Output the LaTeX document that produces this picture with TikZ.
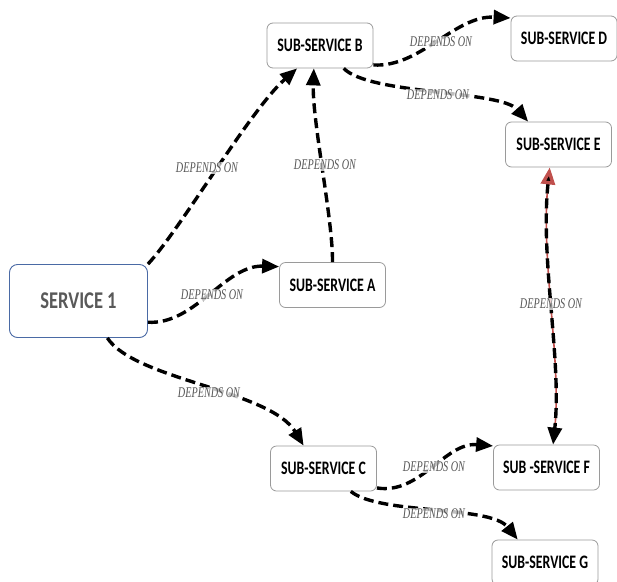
\documentclass[tikz,border=0pt]{standalone}
\usepackage{fontspec}
\usepackage{graphicx}
\setsansfont{Carlito}
\newfontfamily\lblfont{Liberation Serif}
\usetikzlibrary{arrows.meta}
\definecolor{boxgray}{HTML}{9A9A9A}
\definecolor{svcblue}{HTML}{4A6AA5}
\definecolor{svctext}{HTML}{595959}
\definecolor{lblgray}{HTML}{555555}
\definecolor{linkred}{HTML}{C0504D}
\tikzset{
  subbox/.style={draw=boxgray, line width=0.8pt, rounded corners=6pt, fill=white,
    minimum width=106pt, minimum height=45pt, inner sep=0pt,
    font=\sffamily\bfseries\fontsize{13.8}{14}\selectfont},
  mainbox/.style={draw=svcblue, line width=0.9pt, rounded corners=8pt, fill=white,
    minimum width=138pt, minimum height=73pt, inner sep=0pt, text=svctext,
    font=\sffamily\bfseries\fontsize{18.5}{20}\selectfont},
  dep/.style={line width=3.4pt, dash pattern=on 10pt off 5pt,
    -{Triangle[length=17pt,width=14pt]}},
  lbl/.style={fill=white, fill opacity=0.75, text opacity=1, inner sep=1pt,
    text=lblgray, font=\lblfont\itshape\fontsize{10.2}{10}\selectfont}
}
\newcommand{\vtext}[2]{\scalebox{1}[#1]{#2}}
\newcommand{\deplbl}{\vtext{1.45}{DEPENDS ON}}
\begin{document}
\begin{tikzpicture}[x=1pt,y=-1pt]
\useasboundingbox (0,0) rectangle (617,581);
\clip (0,0) rectangle (617,581);
\fill[white] (0,0) rectangle (617,581);

% nodes
\node[mainbox] (s1) at (78.5,301) {\vtext{1.3}{SERVICE 1}};
\node[subbox] (b) at (320,45.5) {\vtext{1.38}{SUB-SERVICE B}};
\node[subbox] (d) at (564,38.5) {\vtext{1.38}{SUB-SERVICE D}};
\node[subbox] (e) at (558.5,144.5) {\vtext{1.38}{SUB-SERVICE E}};
\node[subbox] (a) at (332.5,285) {\vtext{1.38}{SUB-SERVICE A}};
\node[subbox] (c) at (323.5,468.5) {\vtext{1.38}{SUB-SERVICE C}};
\node[subbox] (f) at (546.5,467.5) {\vtext{1.38}{SUB -SERVICE F}};
\node[subbox] (g) at (545,562.5) {\vtext{1.38}{SUB-SERVICE G}};

% connectors
\draw[dep] (s1.north east) .. controls (180,230) and (250,110) .. (b.225);
\draw[dep] (s1.343.5) .. controls (195,325) and (225,265) .. (a.161);
\draw[dep] (s1.308) .. controls (135,380) and (270,390) .. (c.131);
\draw[dep] (a.north) .. controls (333,220) and (312,120) .. (b.255);
\draw[dep] (b.340) .. controls (420,68) and (455,15) .. (d.159);
\draw[dep] (b.316) .. controls (370,95) and (500,90) .. (e.143.6);
\draw[dep] (c.340) .. controls (420,495) and (445,442) .. (f.158.5);
\draw[dep] (c.320) .. controls (380,515) and (490,505) .. (g.140);
% bidirectional E <-> F
\draw[linkred, line width=1.6pt, shorten <=15pt, shorten >=15pt]
  (e.249) .. controls (540,260) and (562,360) .. (f.74);
\draw[line width=3.4pt, dash pattern=on 10pt off 5pt,
  {Triangle[length=17pt,width=14pt,color=linkred,fill=black]}-{Triangle[length=17pt,width=14pt]}]
  (e.249) .. controls (540,260) and (562,360) .. (f.74);

% labels
\node[lbl] (l1) at (207,168) {\deplbl};
\node[lbl] (l2) at (212,295) {\deplbl};
\node[lbl] (l3) at (209,393) {\deplbl};
\node[lbl] (l4) at (325,165) {\deplbl};
\node[lbl] (l5) at (441,42) {\deplbl};
\node[lbl] (l6) at (438,95) {\deplbl};
\node[lbl] (l7) at (551,304) {\deplbl};
\node[lbl] (l8) at (434,467) {\deplbl};
\node[lbl] (l9) at (434,514) {\deplbl};
\end{tikzpicture}
\end{document}
